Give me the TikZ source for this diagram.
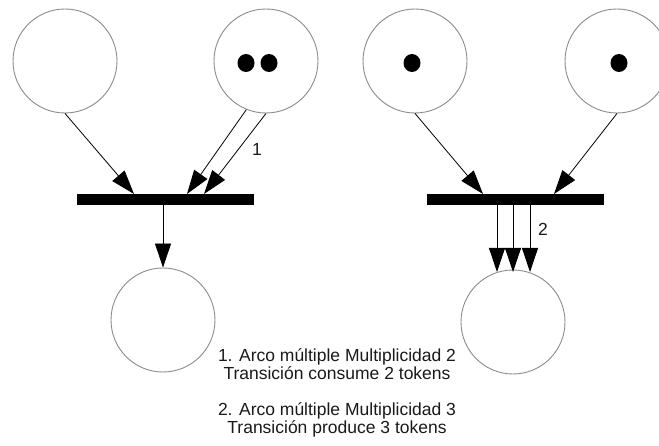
\documentclass[tikz,border=0pt]{standalone}
\usepackage{fontspec}
\setmainfont{Liberation Sans}
\usetikzlibrary{arrows.meta}
\definecolor{placegray}{HTML}{8C8C8C}
\definecolor{txt}{HTML}{1A1A1A}
\begin{document}
\begin{tikzpicture}[x=1pt,y=-1pt,
  place/.style={circle,draw=placegray,line width=0.9pt,minimum size=104pt,inner sep=0pt},
  trans/.style={rectangle,fill=black,minimum width=177pt,minimum height=11pt,inner sep=0pt},
  arc/.style={-{Triangle[length=24pt,width=16pt]},line width=0.8pt},
  lbl/.style={text=txt,font=\fontsize{17.5}{19}\selectfont,inner sep=0pt},
  note/.style={text=txt,font=\fontsize{17.5}{18.5}\selectfont,align=center,inner sep=0pt}]
\useasboundingbox (0,0) rectangle (659,446);
\clip (0,0) rectangle (659,446);
\fill[white] (0,0) rectangle (659,446);

% places
\node[place] (p1) at (65,61) {};
\node[place] (p2) at (266,61) {};
\node[place] (p3) at (415,61) {};
\node[place] (p4) at (617,61) {};
\node[place] (q1) at (163,320) {};
\node[place] (q2) at (513,322) {};

% tokens
\fill (246,63) ellipse [x radius=8.5, y radius=9];
\fill (269,63) ellipse [x radius=8.5, y radius=9];
\fill (412,63) ellipse [x radius=8.5, y radius=9];
\fill (619,63) ellipse [x radius=8.5, y radius=9];

% transitions
\node[trans] (t1) at (165.5,199.5) {};
\node[trans] (t2) at (515.5,199.5) {};

% arc end points on the transitions
\coordinate (a1) at (134,194);
\coordinate (a2) at (187,194);
\coordinate (a3) at (204,194);
\coordinate (b1) at (483,194);
\coordinate (b2) at (554,194);
\coordinate (c1) at (497,205);
\coordinate (c2) at (513,205);
\coordinate (c3) at (530,205);
\coordinate (d1) at (497,272);
\coordinate (d2) at (513,272);
\coordinate (d3) at (530,272);

% input arcs
\draw[arc] (p1.south) -- (a1);
\draw[arc] (p2.248) -- (a2);
\draw[arc] (p2.south) -- (a3);
\draw[arc] (p3.south) -- (b1);
\draw[arc] (p4.south) -- (b2);

% output arcs
\draw[arc] (t1.south -| q1.north) -- (q1.north);
\draw[arc] (c1) -- (d1);
\draw[arc] (c2) -- (d2);
\draw[arc] (c3) -- (d3);

% multiplicity labels
\node[lbl] (m1) at (257,149) {1};
\node[lbl] (m2) at (543,229) {2};

% notes
\node[note] (n1) at (337,364) {1. Arco múltiple Multiplicidad 2\\Transición consume 2 tokens};
\node[note] (n2) at (337,420) {2. Arco múltiple Multiplicidad 3\\Transición produce 3 tokens};
\end{tikzpicture}
\end{document}
